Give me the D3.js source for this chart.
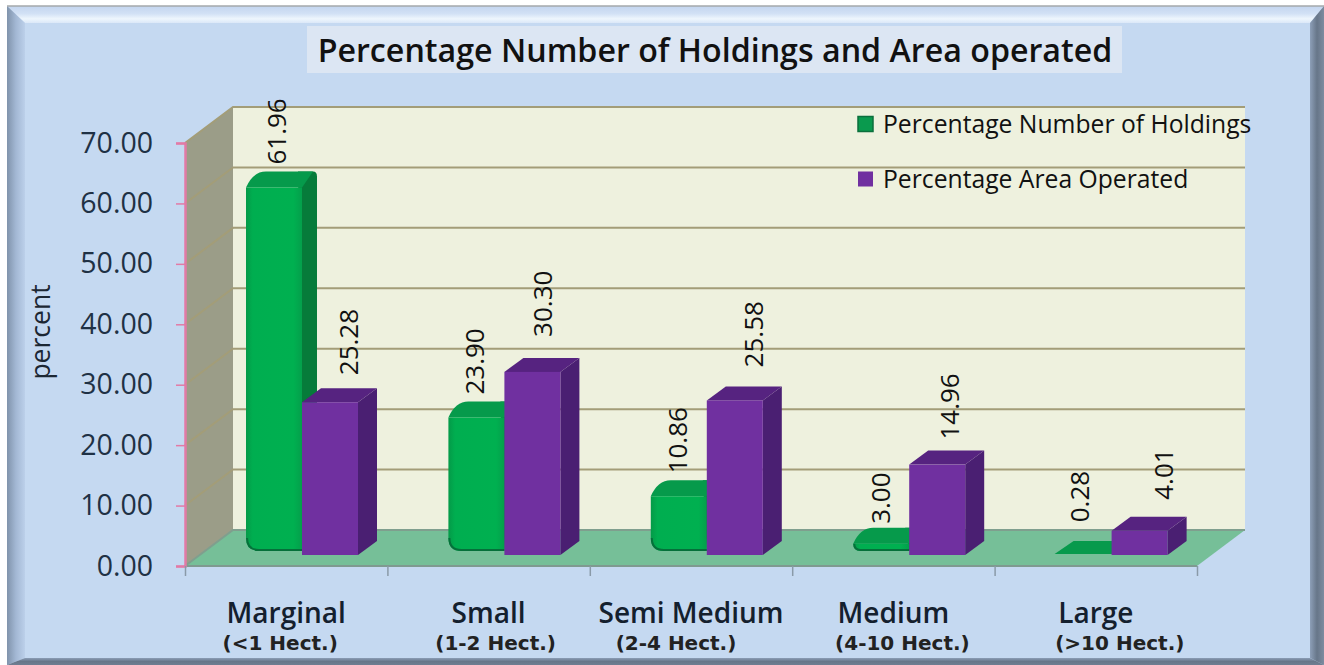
<!DOCTYPE html>
<html>
<head>
<meta charset="utf-8">
<script src="https://cdn.jsdelivr.net/npm/d3@7"></script>
<style>
  html, body { margin: 0; padding: 0; background: #fff; }
  svg { display: block; }
  text { font-family: "Open Sans", sans-serif; }
</style>
</head>
<body>
<div id="d3-container"></div>
<script>
const categories = ["Marginal", "Small", "Semi Medium", "Medium", "Large"];
const subLabels = ["(<1 Hect.)", "(1-2 Hect.)", "(2-4 Hect.)", "(4-10 Hect.)", "(>10 Hect.)"];
const seriesNames = ["Percentage Number of Holdings", "Percentage Area Operated"];
const holdings = [61.96, 23.90, 10.86, 3.00, 0.28];
const area = [25.28, 30.30, 25.58, 14.96, 4.01];
const yTicks = [0, 10, 20, 30, 40, 50, 60, 70];

// hand placed nudges of the rotated value labels, as in the original
const holdingsNudge = [[3, 9], [-2, 9], [-1, 9], [-1, 6], [-4, 24]];
const areaNudge = [[19, 13], [10, 21], [19, 19], [12, 11], [24, 17]];
const subLabelNudge = [-6, 7, -15, 9, 24];

const width = 1324,
  height = 665,
  margin = { top: 143, bottom: 99, left: 185, right: 127 },
  depth = { x: 48, y: 36 };

const colors = {
  panel: "#c5d9f1",
  wall: "#eef1de",
  side: "#9b9d88",
  floor: "#76bf98",
  grid: "#a39d78",
  axis: "#e27aa6",
  tick: "#8a9aa8",
  label: "#1f3145",
  green: "#00b050",
  greenTop: "#069a4b",
  greenSide: "#067b3a",
  purple: "#7030a0",
  purpleTop: "#562380",
  purpleSide: "#4a1f72",
};

const svg = d3
  .select("#d3-container")
  .append("svg")
  .attr("width", width)
  .attr("height", height);

const defs = svg.append("defs");

function gradient(id, x2, y2, stops) {
  const g = defs
    .append("linearGradient")
    .attr("id", id)
    .attr("x1", 0)
    .attr("y1", 0)
    .attr("x2", x2)
    .attr("y2", y2);
  stops.forEach(s => g.append("stop").attr("offset", s[0]).attr("stop-color", s[1]));
}

gradient("bevelTop", 0, 1, [[0, "#c3d5ef"], [0.45, "#d2e1f5"], [0.75, "#eef6fd"], [1, "#dbe8f8"]]);
gradient("bevelLeft", 1, 0, [[0, "#8093ab"], [0.5, "#a3b8d4"], [1, "#bcd0ea"]]);
gradient("bevelRight", 1, 0, [[0, "#8d9fb8"], [0.5, "#677689"], [1, "#7d8ca0"]]);
gradient("bevelBottom", 0, 1, [[0, "#8b9db6"], [0.5, "#677689"], [1, "#6f7e92"]]);
gradient("greenFront", 1, 0, [[0, "#049a48"], [0.12, "#00ae50"], [0.85, "#00b050"], [1, "#049f4b"]]);

// frame
const frame = { x0: 7, y0: 6, x1: 1324, y1: 665, ix0: 25, iy0: 23, ix1: 1310, iy1: 658 };
const poly = pts => pts.map(p => p.join(",")).join(" ");

svg.append("rect")
  .attr("x", frame.x0).attr("y", frame.y0)
  .attr("width", frame.x1 - frame.x0).attr("height", frame.y1 - frame.y0)
  .attr("fill", colors.panel);

svg.append("polygon")
  .attr("points", poly([[frame.x0, frame.y0], [frame.x1, frame.y0], [frame.ix1, frame.iy0], [frame.ix0, frame.iy0]]))
  .attr("fill", "url(#bevelTop)");
svg.append("polygon")
  .attr("points", poly([[frame.x0, frame.y0], [frame.ix0, frame.iy0], [frame.ix0, frame.iy1], [frame.x0, frame.y1]]))
  .attr("fill", "url(#bevelLeft)");
svg.append("polygon")
  .attr("points", poly([[frame.x1, frame.y0], [frame.x1, frame.y1], [frame.ix1, frame.iy1], [frame.ix1, frame.iy0]]))
  .attr("fill", "url(#bevelRight)");
svg.append("polygon")
  .attr("points", poly([[frame.x0, frame.y1], [frame.ix0, frame.iy1], [frame.ix1, frame.iy1], [frame.x1, frame.y1]]))
  .attr("fill", "url(#bevelBottom)");
svg.append("line")
  .attr("x1", frame.x0).attr("x2", frame.x1)
  .attr("y1", frame.y0).attr("y2", frame.y0)
  .attr("stroke", "#a5a8ab").attr("stroke-width", 1.5);

// title
svg.append("rect")
  .attr("x", 307).attr("y", 26).attr("width", 815).attr("height", 47)
  .attr("fill", "#dce6f3");
svg.append("text")
  .attr("x", 715).attr("y", 62)
  .attr("text-anchor", "middle")
  .attr("font-size", 32.2)
  .attr("font-weight", 600)
  .attr("fill", "#111")
  .text("Percentage Number of Holdings and Area operated");

// scales
const yScale = d3
  .scaleLinear()
  .domain([0, 70])
  .range([height - margin.bottom, margin.top]);

const xScale = d3
  .scaleBand()
  .domain(categories)
  .range([margin.left, width - margin.right]);

const inner = d3
  .scaleBand()
  .domain(seriesNames)
  .range([61, 173]);

const xEdges = d3
  .scaleLinear()
  .domain([0, categories.length])
  .range([margin.left, width - margin.right]);

const y0 = yScale(0);
const plotRight = width - margin.right;

// walls and floor
svg.append("polygon")
  .attr("points", poly([
    [margin.left + depth.x, yScale(70) - depth.y],
    [plotRight + depth.x, yScale(70) - depth.y],
    [plotRight + depth.x, y0 - depth.y],
    [margin.left + depth.x, y0 - depth.y],
  ]))
  .attr("fill", colors.wall);

svg.append("polygon")
  .attr("points", poly([
    [margin.left, yScale(70)],
    [margin.left + depth.x, yScale(70) - depth.y],
    [margin.left + depth.x, y0 - depth.y],
    [margin.left, y0],
  ]))
  .attr("fill", colors.side);

svg.append("polygon")
  .attr("points", poly([
    [margin.left, y0],
    [margin.left + depth.x, y0 - depth.y],
    [plotRight + depth.x, y0 - depth.y],
    [plotRight, y0],
  ]))
  .attr("fill", colors.floor);

// gridlines, slanted on the side wall and flat on the back wall
const grid = svg.append("g").attr("fill", "none").attr("stroke", colors.grid).attr("stroke-width", 2);

grid.selectAll("path")
  .data(yTicks)
  .join("path")
  .attr("stroke", d => (d === 0 ? "#7f9f8e" : colors.grid))
  .attr("d", d => {
    const y = yScale(d);
    return `M${margin.left},${y}L${margin.left + depth.x},${y - depth.y}L${plotRight + depth.x},${y - depth.y}`;
  });

svg.append("line")
  .attr("x1", margin.left).attr("x2", plotRight)
  .attr("y1", y0).attr("y2", y0)
  .attr("stroke", "#7f9a90").attr("stroke-width", 2);

// bars
const pxPerUnit = y0 - yScale(1);
const marks = svg.append("g");

function greenBar(g, d, i) {
  const x0 = xScale(categories[i]) + inner(seriesNames[0]);
  const x1 = x0 + inner.bandwidth();
  const h = d * pxPerUnit;

  if (h < 5) {
    // almost no height, only the top face shows
    const base = y0 - 12;
    g.append("path")
      .attr("d", `M${x0 - 1},${base}L${x0 + 18},${base - 13}L${x1 + 15},${base - 13}L${x1},${base}Z`)
      .attr("fill", "#079a4c");
    return;
  }

  const base = y0 - 15;
  const top = base - h + 3;
  const c = 8;
  const r = Math.min(13, base - top - c);

  g.append("path")
    .attr("d", `M${x1 - 4},${top - c}L${x1 + 11},${top - c}Q${x1 + 15},${top - c} ${x1 + 15},${top - c + 5}` +
      `L${x1 + 15},${base - 13}L${x1},${base}Z`)
    .attr("fill", colors.greenSide);

  g.append("path")
    .attr("d", `M${x0},${top + c}Q${x0 + 7},${top - c} ${x0 + 20},${top - c}L${x1 + 11},${top - c}L${x1},${top + c}Z`)
    .attr("fill", colors.greenTop);

  g.append("path")
    .attr("d", `M${x0},${top + c}L${x1},${top + c}L${x1},${base}L${x0 + r},${base}` +
      `Q${x0},${base} ${x0},${base - r}Z`)
    .attr("fill", "url(#greenFront)");

  g.append("path")
    .attr("d", `M${x0 + 1},${base - r}Q${x0 + 1},${base - 1} ${x0 + r},${base - 1}L${x1},${base - 1}`)
    .attr("fill", "none")
    .attr("stroke", "#05703a")
    .attr("stroke-width", 2);
}

function purpleBar(g, d, i) {
  const x0 = xScale(categories[i]) + inner(seriesNames[1]);
  const x1 = x0 + inner.bandwidth();
  const base = y0 - 11;
  const top = base - d * pxPerUnit;
  const dx = 19, dy = 14;

  g.append("polygon")
    .attr("points", poly([[x1, top], [x1 + dx, top - dy], [x1 + dx, base - dy], [x1, base]]))
    .attr("fill", colors.purpleSide);
  g.append("polygon")
    .attr("points", poly([[x0, top], [x0 + dx, top - dy], [x1 + dx, top - dy], [x1, top]]))
    .attr("fill", colors.purpleTop);
  g.append("rect")
    .attr("x", x0).attr("y", top)
    .attr("width", x1 - x0).attr("height", base - top)
    .attr("fill", colors.purple);
}

categories.forEach((c, i) => {
  const g = marks.append("g");
  greenBar(g, holdings[i], i);
  purpleBar(g, area[i], i);
});

// value labels
function valueLabels(values, seriesName, nudge, baseOffset) {
  svg.append("g")
    .selectAll("text")
    .data(values)
    .join("text")
    .attr("transform", (d, i) => {
      const x = xScale(categories[i]) + inner(seriesName) + inner.bandwidth() / 2 + nudge[i][0];
      const y = y0 - baseOffset - d * pxPerUnit - nudge[i][1];
      return `translate(${x},${y}) rotate(-90)`;
    })
    .attr("dy", "0.36em")
    .attr("font-size", 26)
    .attr("font-weight", 500)
    .attr("fill", "#111")
    .text(d => d.toFixed(2));
}

valueLabels(holdings, seriesNames[0], holdingsNudge, 18);
valueLabels(area, seriesNames[1], areaNudge, 25);

// axes
const yAxis = d3.axisLeft(yScale).tickValues(yTicks).tickFormat(d3.format(".2f")).tickSize(9).tickPadding(23);

svg.append("g")
  .attr("transform", `translate(${margin.left},0)`)
  .call(yAxis)
  .call(g => g.select(".domain").attr("stroke", colors.axis).attr("stroke-width", 2.5))
  .call(g => g.selectAll(".tick line").attr("stroke", colors.axis).attr("stroke-width", 1.5))
  .call(g => g.selectAll(".tick text")
    .attr("fill", colors.label)
    .style("font-family", '"Open Sans", sans-serif')
    .style("font-size", "28.5px"));

const xAxis = d3.axisBottom(xEdges).ticks(categories.length).tickFormat("").tickSize(10).tickSizeOuter(0);

svg.append("g")
  .attr("transform", `translate(0,${y0})`)
  .call(xAxis)
  .call(g => g.select(".domain").remove())
  .call(g => g.selectAll(".tick line").attr("stroke", colors.tick).attr("stroke-width", 1.5));

svg.append("text")
  .attr("transform", "translate(40,332) rotate(-90)")
  .attr("dy", "0.36em")
  .attr("text-anchor", "middle")
  .attr("font-size", 26.5)
  .attr("fill", "#1c2733")
  .text("percent");

// category labels
svg.append("g")
  .selectAll("text")
  .data(categories)
  .join("text")
  .attr("x", d => xScale(d) + xScale.bandwidth() / 2)
  .attr("y", 623)
  .attr("text-anchor", "middle")
  .attr("font-size", 28)
  .attr("font-weight", 600)
  .attr("fill", "#14202e")
  .text(d => d);

svg.append("g")
  .selectAll("text")
  .data(subLabels)
  .join("text")
  .attr("x", (d, i) => xScale(categories[i]) + xScale.bandwidth() / 2 + subLabelNudge[i])
  .attr("y", 650)
  .attr("text-anchor", "middle")
  .style("font-family", '"DejaVu Sans", sans-serif')
  .attr("font-size", 20)
  .attr("font-weight", 700)
  .attr("fill", "#222")
  .text(d => d);

// legend
const legend = svg.append("g");
const legendY = d3.scalePoint().domain(seriesNames).range([124, 179]);

legend.selectAll("rect")
  .data(seriesNames)
  .join("rect")
  .attr("x", 858)
  .attr("y", d => legendY(d) - 7.5)
  .attr("width", 15)
  .attr("height", 15)
  .attr("fill", (d, i) => (i === 0 ? "#0a9a4e" : colors.purple))
  .attr("stroke", (d, i) => (i === 0 ? "#0b6f3c" : "none"))
  .attr("stroke-width", 1.5);

legend.selectAll("text")
  .data(seriesNames)
  .join("text")
  .attr("x", 883)
  .attr("y", d => legendY(d) + 9)
  .attr("font-size", 24.7)
  .attr("fill", "#111")
  .text(d => d);
</script>
</body>
</html>
